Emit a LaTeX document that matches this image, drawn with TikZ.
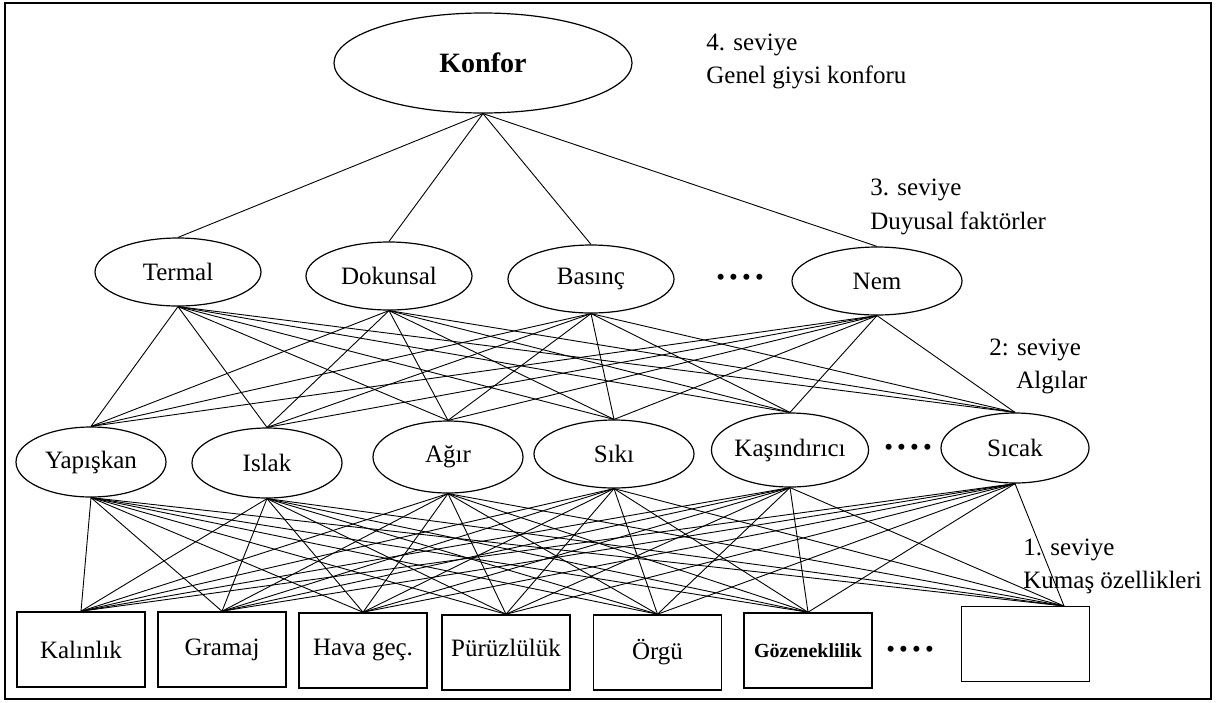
\documentclass[tikz,border=0pt]{standalone}
\usepackage{fontspec}
\setmainfont{Liberation Serif}
\usetikzlibrary{shapes.geometric}

\begin{document}
\begin{tikzpicture}[x=0.5pt,y=-0.5pt,
  font=\fontsize{12.5}{15}\selectfont,
  oval/.style={draw, ellipse, line width=0.6pt, inner sep=0pt},
  kutu/.style={draw, line width=0.8pt, minimum width=64pt, minimum height=37.5pt, inner sep=0pt},
  bag/.style={line width=0.45pt},
  etiket/.style={anchor=base west, inner sep=0pt}]

  \useasboundingbox (0,0) rectangle (1219,702);
  \draw[line width=1.2pt] (5,3) rectangle (1211,699);

  % 4. seviye
  \node[oval, minimum width=149pt, minimum height=50pt, font=\fontsize{14}{16}\selectfont\bfseries] (konfor) at (483,63) {Konfor};

  % 3. seviye
  \node[oval, minimum width=83pt, minimum height=34pt] (s3a) at (178,272) {Termal};
  \node[oval, minimum width=83pt, minimum height=34pt] (s3b) at (389,276) {Dokunsal};
  \node[oval, minimum width=83pt, minimum height=34pt] (s3c) at (591,279) {Basınç};
  \node[oval, minimum width=85pt, minimum height=34pt] (s3d) at (877,281) {Nem};
  \node (n3) at (740,280) {\textbullet\,\textbullet\,\textbullet\,\textbullet};

  % 2. seviye
  \node[oval, minimum width=75pt, minimum height=35pt] (s2a) at (91,462) {Yapışkan};
  \node[oval, minimum width=75pt, minimum height=35pt] (s2b) at (267,463) {Islak};
  \node[oval, minimum width=75pt, minimum height=36pt] (s2c) at (448,457) {Ağır};
  \node[oval, minimum width=80pt, minimum height=34pt] (s2d) at (614,454) {Sıkı};
  \node[oval, minimum width=75pt, minimum height=37pt] (s2e) at (790,450) {Kaşındırıcı};
  \node[oval, minimum width=74pt, minimum height=35pt] (s2f) at (1015,448) {Sıcak};
  \node (n2) at (908,450) {\textbullet\,\textbullet\,\textbullet\,\textbullet};

  % 1. seviye
  \node[kutu] (k1) at (81,649.5) {Kalınlık};
  \node[kutu] (k2) at (222,649.5) {Gramaj};
  \node[kutu] (k3) at (363,650.5) {Hava geç.};
  \node[kutu] (k4) at (506,652.5) {\raisebox{5pt}{Pürüzlülük}};
  \node[kutu] (k5) at (657.5,652.5) {Örgü};
  \node[kutu, font=\fontsize{10}{12}\selectfont\bfseries] (k6) at (808,650.5) {Gözeneklilik};
  \node[kutu] (k7) at (1025.5,644) {};
  \node (n1) at (910,652) {\textbullet\,\textbullet\,\textbullet\,\textbullet};
  \coordinate (bos) at (1064,606);

  % seviye etiketleri
  \node[etiket] (e4a) at (706,50) {4. seviye};
  \node[etiket] (e4b) at (706,83) {Genel giysi konforu};
  \node[etiket] (e3a) at (870,195) {3. seviye};
  \node[etiket] (e3b) at (870,229) {Duyusal faktörler};
  \node[etiket] (e2a) at (989,355) {2: seviye};
  \node[etiket] (e2b) at (1016,388) {Algılar};
  \node[etiket] (e1a) at (1023,555) {1. seviye};
  \node[etiket] (e1b) at (1023,588) {Kumaş özellikleri};

  % baglantilar
  \foreach \u in {s3a,s3b,s3c,s3d}
    \draw[bag] (konfor.south) -- (\u.north);
  \foreach \u in {s3a,s3b,s3c,s3d}
    \foreach \v in {s2a,s2b,s2c,s2d,s2e,s2f}
      \draw[bag] (\u.south) -- (\v.north);
  \foreach \u in {s2a,s2b,s2c,s2d,s2e,s2f}
    \foreach \v in {k1.north,k2.north,k3.north,k4.north,k5.north,k6.north,bos}
      \draw[bag] (\u.south) -- (\v);

\end{tikzpicture}
\end{document}
